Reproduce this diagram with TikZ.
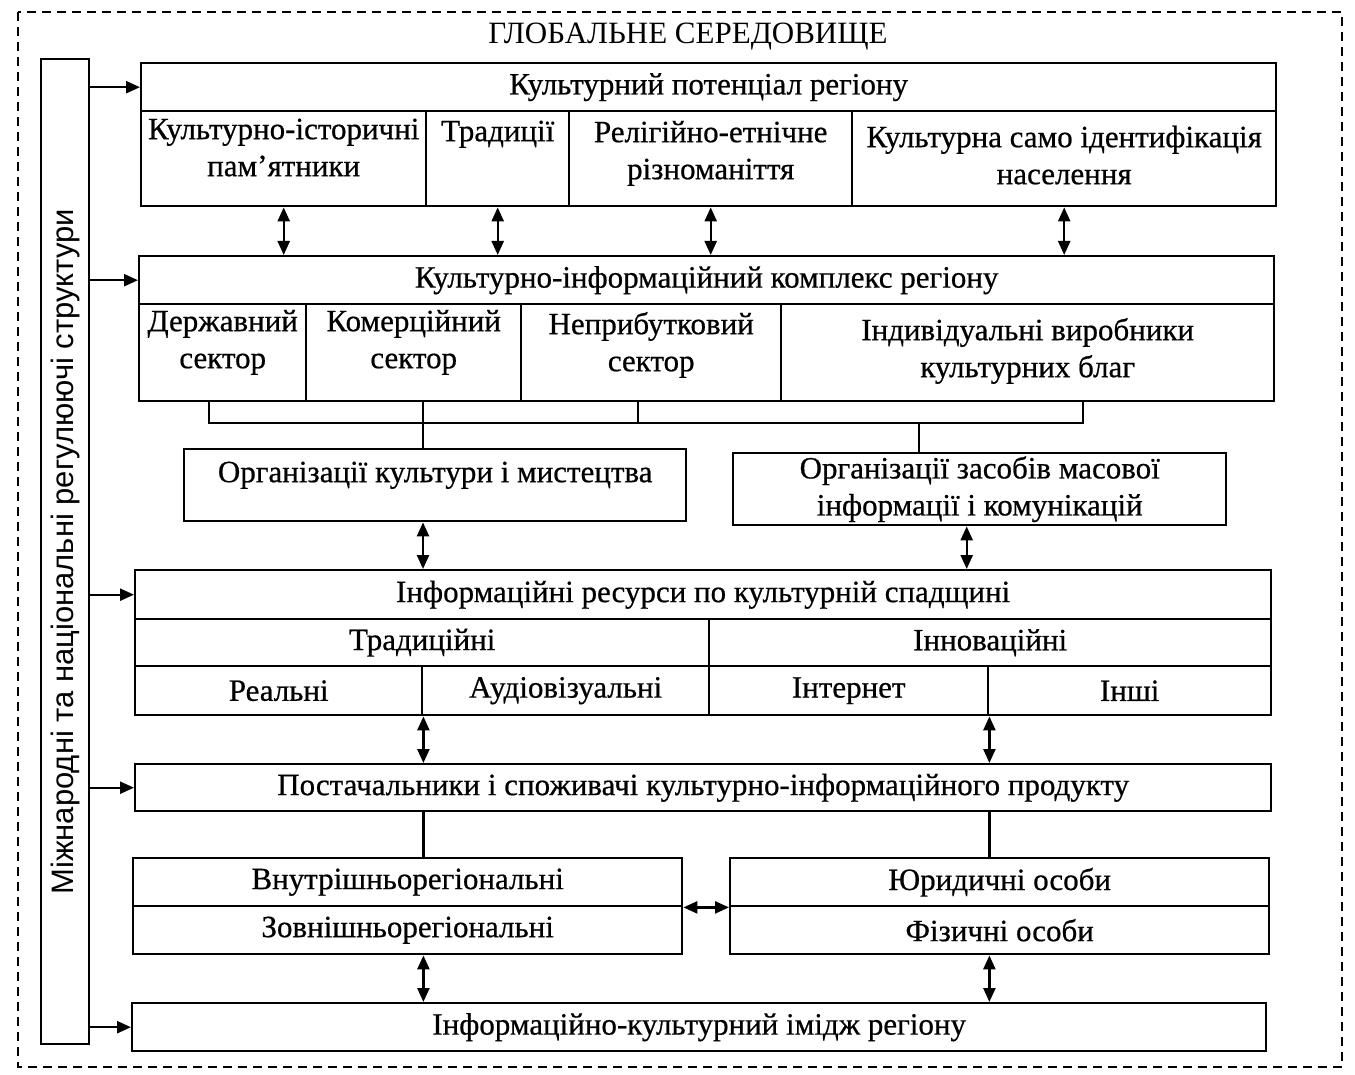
\documentclass[tikz,border=0pt]{standalone}
\usepackage{fontspec}
\setmainfont{Liberation Serif}[FakeBold=0.6]
\setsansfont{Liberation Sans}
\newfontfamily\titlefont{Liberation Serif}
\usepackage{tikz}
\usetikzlibrary{
  arrows.meta
}
\tikzset{
  cell/.style={draw, line width=2.4pt, inner sep=0pt, align=center, anchor=north west,
    font=\fontsize{31}{37}\selectfont},
  wh/.style 2 args={minimum width=#1pt, minimum height=#2pt},
  toptext/.style 2 args={text height=#1, text depth=#2},
  wire/.style={line width=2.4pt},
  feed/.style={-{Triangle[length=14pt, width=12pt]}, line width=2.4pt},
  dbl/.style={{Triangle[length=14pt, width=12pt]}-{Triangle[length=14pt, width=12pt]}, line width=2.4pt},
  frame/.style={line width=2.2pt, dash pattern=on 9pt off 6pt},
  note/.style={font=\titlefont\fontsize{31}{37}\selectfont},
}
\begin{document}
\begin{tikzpicture}[x=1pt, y=-1pt]
\useasboundingbox (0,0) rectangle (1355,1075);

% global environment
\draw[frame] (18,12) rectangle (1342,1067);
\node[note] (glob) at (688,37) {ГЛОБАЛЬНЕ СЕРЕДОВИЩЕ};

% regulating structures (left column)
\node[cell, wh={48}{985}, font=\sffamily\fontsize{31}{37}\selectfont] (reg) at (40,58)
  {\rotatebox{90}{Міжнародні та національні регулюючі структури}};

% cultural potential
\node[cell, wh={1135}{48}] (pot) at (140,62) {Культурний потенціал регіону};
\node[cell, wh={285}{95}, toptext={65pt}{30pt}] (pam) at (140,110) {Культурно-історичні\\пам’ятники};
\node[cell, wh={143}{95}, toptext={30pt}{65pt}] (trad) at (425,110) {Традиції};
\node[cell, wh={283}{95}, toptext={68pt}{27pt}] (rel) at (568,110) {Релігійно-етнічне\\різноманіття};
\node[cell, wh={424}{95}, toptext={73pt}{22pt}] (sam) at (851,110) {Культурна само ідентифікація\\населення};

% cultural-information complex
\node[cell, wh={1135}{48}] (kik) at (138,255) {Культурно-інформаційний комплекс регіону};
\node[cell, wh={167}{97}, toptext={64pt}{33pt}] (der) at (138,303) {Державний\\сектор};
\node[cell, wh={215}{97}, toptext={64pt}{33pt}] (kom) at (305,303) {Комерційний\\сектор};
\node[cell, wh={260}{97}, toptext={67pt}{30pt}] (nep) at (520,303) {Неприбутковий\\сектор};
\node[cell, wh={493}{97}, toptext={73pt}{24pt}] (ind) at (780,303) {Індивідуальні виробники\\культурних благ};

% organisations
\node[cell, wh={502}{72}, toptext={33pt}{39pt}] (ork) at (183,448) {Організації культури і мистецтва};
\node[cell, wh={493}{72}] (zmi) at (732,452) {Організації засобів масової\\інформації і комунікацій};

% information resources
\node[cell, wh={1136}{49}] (ir) at (134,569) {Інформаційні ресурси по культурній спадщині};
\node[cell, wh={574}{47}] (trr) at (134,618) {Традиційні};
\node[cell, wh={562}{47}] (inn) at (708,618) {Інноваційні};
\node[cell, wh={287}{49}] (real) at (134,665) {Реальні};
\node[cell, wh={287}{49}] (aud) at (421,665) {Аудіовізуальні};
\node[cell, wh={279}{49}] (inet) at (708,665) {Інтернет};
\node[cell, wh={283}{49}] (oth) at (987,665) {Інші};

% suppliers and consumers
\node[cell, wh={1136}{47}] (post) at (134,763) {Постачальники і споживачі культурно-інформаційного продукту};
\node[cell, wh={549}{48}] (vn) at (132,857) {Внутрішньорегіональні};
\node[cell, wh={549}{48}] (zv) at (132,905) {Зовнішньорегіональні};
\node[cell, wh={539}{48}] (yur) at (729,857) {Юридичні особи};
\node[cell, wh={539}{48}] (fiz) at (729,905) {Фізичні особи};

% image of the region
\node[cell, wh={1134}{48}] (img) at (131,1002) {Інформаційно-культурний імідж регіону};

% feeds from the regulating structures
\foreach \n in {pot,kik,ir,post,img}
  \draw[feed] (reg.east |- \n.west) -- (\n.west);

% potential <-> complex
\foreach \n in {pam,trad,rel,sam}
  \draw[dbl] (\n.south) -- (\n.south |- kik.north);

% sectors joined to the organisations
\coordinate (b1) at (209,423);
\coordinate (b2) at (423,423);
\coordinate (b3) at (638,423);
\coordinate (b4) at (1083,423);
\coordinate (b5) at (919,423);
\draw[wire] (b1 |- der.south) -- (b1) -- (b4) -- (b4 |- ind.south);
\draw[wire] (b2 |- kom.south) -- (b2 |- ork.north);
\draw[wire] (b3 |- nep.south) -- (b3);
\draw[wire] (b5) -- (b5 |- zmi.north);

% organisations <-> resources
\draw[dbl] (b2 |- ork.south) -- (b2 |- ir.north);
\draw[dbl] ([xshift=-13pt]zmi.south) -- ([xshift=-13pt]zmi.south |- ir.north);

% resources <-> suppliers
\draw[dbl] (real.south east) -- (post.north -| real.east);
\draw[dbl] (inet.south east) -- (post.north -| inet.east);
\draw[wire] (post.south -| real.east) -- (vn.north -| real.east);
\draw[wire] (post.south -| inet.east) -- (yur.north -| inet.east);
\draw[dbl] (vn.south east) -- (yur.south west);

% suppliers <-> image
\draw[dbl] (zv.south -| real.east) -- (img.north -| real.east);
\draw[dbl] (fiz.south -| inet.east) -- (img.north -| inet.east);

\end{tikzpicture}
\end{document}
